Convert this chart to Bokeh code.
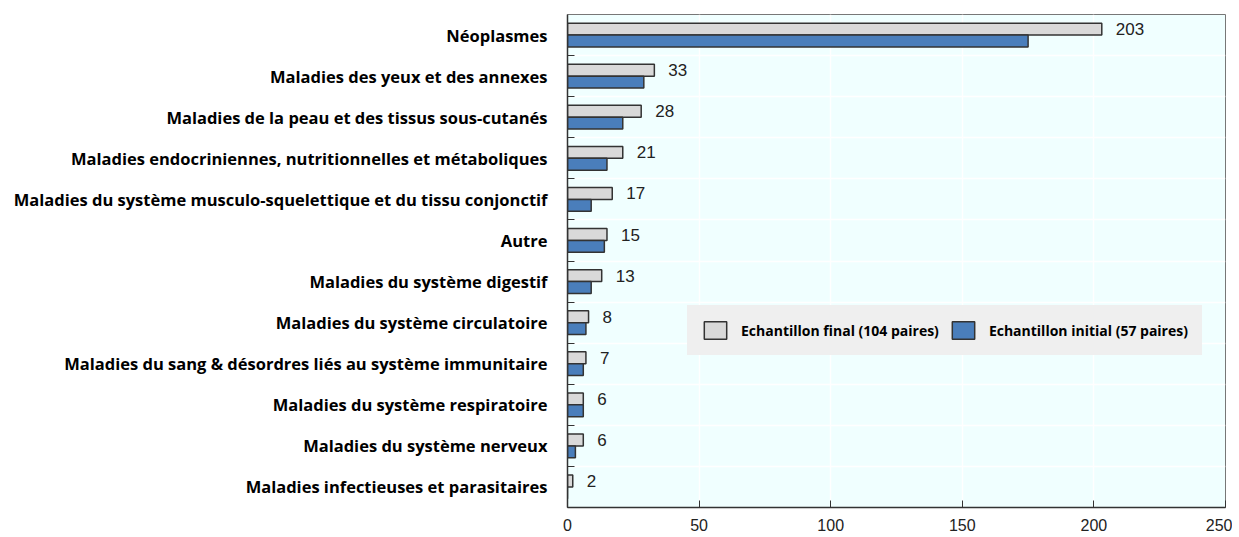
from bokeh.plotting import figure
from bokeh.models import ColumnDataSource, FixedTicker, Legend, LegendItem, Range1d
from bokeh.core.properties import value
from bokeh.embed import file_html
from bokeh.resources import INLINE

categories = [
    "Néoplasmes",
    "Maladies des yeux et des annexes",
    "Maladies de la peau et des tissus sous-cutanés",
    "Maladies endocriniennes, nutritionnelles et métaboliques",
    "Maladies du système musculo-squelettique et du tissu conjonctif",
    "Autre",
    "Maladies du système digestif",
    "Maladies du système circulatoire",
    "Maladies du sang & désordres liés au système immunitaire",
    "Maladies du système respiratoire",
    "Maladies du système nerveux",
    "Maladies infectieuses et parasitaires",
]
final_sample = [203, 33, 28, 21, 17, 15, 13, 8, 7, 6, 6, 2]
initial_sample = [175, 29, 21, 15, 9, 14, 9, 7, 6, 6, 3, 0]
series_names = ["Echantillon final (104 paires)", "Echantillon initial (57 paires)"]
x_ticks = [0, 50, 100, 150, 200, 250]

n = len(categories)
pos = [n - i for i in range(n)]
off = 0.145
src = ColumnDataSource(dict(
    y=pos,
    y_f=[v + off for v in pos],
    y_i=[v - off for v in pos],
    final=final_sample,
    initial=initial_sample,
    lab=[str(v) for v in final_sample],
))

p = figure(width=1232, height=537, x_range=Range1d(0, 250), y_range=Range1d(0.5, n + 0.5),
           output_backend="svg", toolbar_location=None,
           min_border_left=567, min_border_right=7, min_border_top=14, min_border_bottom=30)
p.background_fill_color = "#F0FFFF"
p.border_fill_color = "white"
p.outline_line_color = "#777777"
p.outline_line_width = 1

rf = p.hbar(y="y_f", left=0, right="final", height=0.29, source=src,
            fill_color="#D9D9D9", line_color="#333333", line_width=1.5)
ri = p.hbar(y="y_i", left=0, right="initial", height=0.29, source=src,
            fill_color="#4A7EBB", line_color="#333333", line_width=1.5)

p.text(x="final", y="y_f", text="lab", source=src, x_offset=14,
       text_baseline="middle", text_align="left",
       text_font=value("Liberation Sans"), text_font_size="17px", text_color="#222222")

boundaries = [k + 0.5 for k in range(1, n)]
p.yaxis.ticker = FixedTicker(ticks=pos, minor_ticks=boundaries)
p.yaxis.major_label_overrides = {pos[i]: categories[i] for i in range(n)}
p.yaxis.major_tick_in = 0
p.yaxis.major_tick_out = 0
p.yaxis.minor_tick_in = 7
p.yaxis.minor_tick_out = 0
p.yaxis.minor_tick_line_color = "#333333"
p.yaxis.axis_line_color = "#333333"
p.yaxis.axis_line_width = 1.5
p.yaxis.major_label_standoff = 20
p.yaxis.major_label_text_font = "Open Sans"
p.yaxis.major_label_text_font_style = "bold"
p.yaxis.major_label_text_font_size = "16.5px"
p.yaxis.major_label_text_color = "black"

p.xaxis.ticker = FixedTicker(ticks=x_ticks)
p.xaxis.major_tick_in = 7
p.xaxis.major_tick_out = 0
p.xaxis.minor_tick_line_color = None
p.xaxis.axis_line_color = "#333333"
p.xaxis.axis_line_width = 1.5
p.xaxis.major_tick_line_color = "#333333"
p.xaxis.major_label_standoff = 11
p.xaxis.major_label_text_font = "Liberation Sans"
p.xaxis.major_label_text_font_size = "16px"
p.xaxis.major_label_text_color = "#222222"

p.xgrid.ticker = FixedTicker(ticks=x_ticks)
p.xgrid.grid_line_color = "white"
p.xgrid.grid_line_width = 1.5
p.ygrid.ticker = FixedTicker(ticks=boundaries)
p.ygrid.grid_line_color = "white"
p.ygrid.grid_line_width = 1.5

legend = Legend(items=[LegendItem(label=series_names[0], renderers=[rf]),
                       LegendItem(label=series_names[1], renderers=[ri])],
                orientation="horizontal", location=(120, 152),
                padding=13, spacing=10, margin=0, glyph_width=28, glyph_height=22,
                label_height=22, label_standoff=12,
                background_fill_color="#EFEFEF", background_fill_alpha=1,
                border_line_color="#EFEFEF",
                label_text_font="Open Sans", label_text_font_style="bold",
                label_text_font_size="14px", label_text_color="black")
p.add_layout(legend, "center")

open("out.html", "w").write(file_html(p, INLINE))
